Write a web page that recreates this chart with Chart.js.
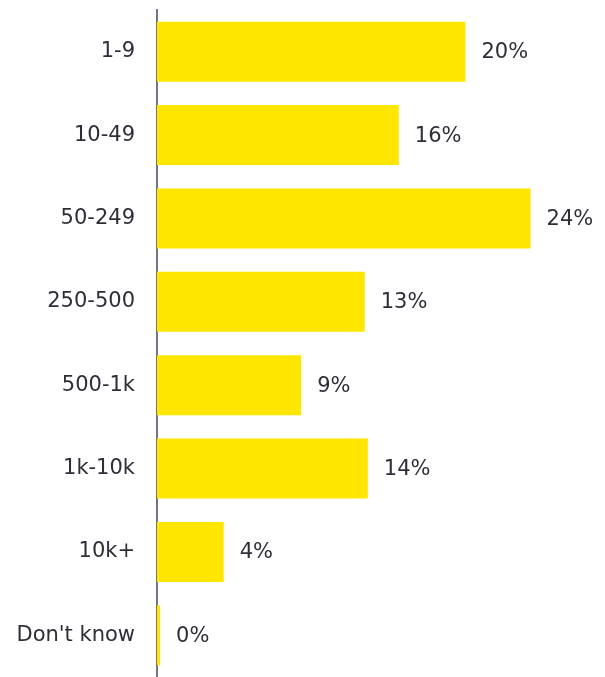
<!DOCTYPE html>
<html>
<head>
<meta charset="utf-8">
<script src="https://cdn.jsdelivr.net/npm/chart.js@4"></script>
<style>
  html, body { margin: 0; padding: 0; background: #fff; }
  #wrap { width: 605px; height: 677px; }
</style>
</head>
<body>
<div id="wrap"><canvas id="myChart" width="605" height="677"></canvas></div>
<script>
const categories = ["1-9", "10-49", "50-249", "250-500", "500-1k", "1k-10k", "10k+", "Don't know"];
const shares = [19.9, 15.6, 24.1, 13.4, 9.3, 13.6, 4.3, 0.2];

const textColor = '#2e2e38';
const fontSpec = { family: 'DejaVu Sans', size: 21 };

// write the rounded percent just right of each bar
const valueLabels = {
    id: 'valueLabels',
    afterDatasetsDraw(chart) {
        const ctx = chart.ctx;
        const meta = chart.getDatasetMeta(0);
        ctx.save();
        ctx.font = fontSpec.size + 'px "' + fontSpec.family + '"';
        ctx.fillStyle = textColor;
        ctx.textBaseline = 'middle';
        ctx.textAlign = 'left';
        meta.data.forEach((bar, i) => {
            ctx.fillText(Math.round(shares[i]) + '%', bar.x + 16, bar.y + 1);
        });
        ctx.restore();
    }
};

new Chart(document.getElementById("myChart"), {
    type: 'bar',
    data: {
        labels: categories,
        datasets: [{
            data: shares,
            backgroundColor: '#ffe600',
            borderWidth: 0,
            barPercentage: 0.72,
            categoryPercentage: 1
        }]
    },
    options: {
        indexAxis: 'y',
        responsive: false,
        animation: false,
        layout: { padding: { top: 10, right: 14, bottom: 0, left: 0 } },
        plugins: {
            legend: { display: false },
            tooltip: { enabled: false }
        },
        scales: {
            x: {
                display: false,
                min: 0,
                max: 28
            },
            y: {
                grid: { display: false, drawTicks: false },
                border: { color: '#747480', width: 2 },
                ticks: {
                    color: textColor,
                    font: fontSpec,
                    padding: 22
                },
                afterFit(scale) {
                    scale.width = 157;
                    scale.paddingTop = 0;
                    scale.paddingBottom = 0;
                }
            }
        }
    },
    plugins: [valueLabels]
});
</script>
</body>
</html>
